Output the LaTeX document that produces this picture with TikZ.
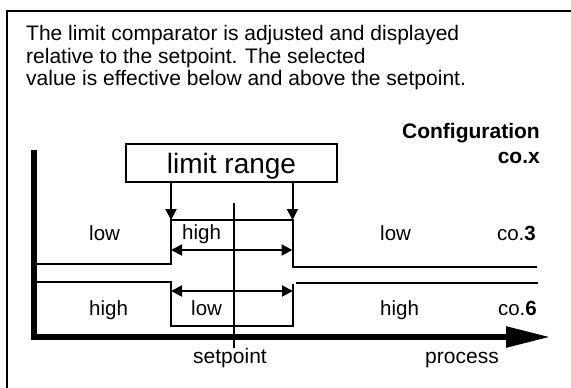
\documentclass[tikz,border=0pt]{standalone}
\usepackage{fontspec}
\setmainfont{Liberation Sans}
\usetikzlibrary{arrows.meta}
\begin{document}
\begin{tikzpicture}[x=1pt,y=-1pt,
  txt/.style={inner sep=0pt, font=\fontsize{21}{25}\selectfont},
  lbl/.style={inner sep=0pt, font=\fontsize{20.5}{25}\selectfont},
  trace/.style={line width=2pt},
  axis/.style={line width=5.5pt},
  tip/.style={-{Triangle[length=11pt,width=11pt]}},
  dtip/.style={{Triangle[length=11pt,width=11pt]}-{Triangle[length=11pt,width=11pt]}}]
\useasboundingbox (0,0) rectangle (571,388);
\clip (0,0) rectangle (571,388);
\fill[white] (0,0) rectangle (571,388);
% outer frame
\draw[line width=2.5pt] (7,400) -- (7,11) -- (600,11);
% paragraph
\node[txt, anchor=base west] (t1) at (26,41) {The limit comparator is adjusted and displayed};
\node[txt, anchor=base west] (t2) at (26,63) {relative to the setpoint. The selected};
\node[txt, anchor=base west] (t3) at (26,85) {value is effective below and above the setpoint.};
% configuration
\node[txt, font=\fontsize{21}{25}\selectfont\bfseries, anchor=base east] (conf) at (540,138) {Configuration};
\node[txt, font=\fontsize{21}{25}\selectfont\bfseries, anchor=base east] (cox) at (540,163) {co.x};
% limit range box
\node[draw, line width=2pt, minimum width=211pt, minimum height=38pt, inner sep=0pt] (box) at (231.5,163) {};
\node[inner sep=0pt, font=\fontsize{28}{30}\selectfont, anchor=base] (lr) at (231.5,173) {limit range};
\coordinate (a1) at (171,220);
\coordinate (a2) at (292.5,220);
\draw[trace, tip] (box.south -| a1) -- (a1);
\draw[trace, tip] (box.south -| a2) -- (a2);
% setpoint line
\draw[trace] (234,203) -- (234,348);
% co.3 trace
\draw[trace] (34,264) -- (171,264) -- (a1) -- (a2) -- (292.5,267) -- (537,267);
\draw[trace, dtip] (171,250) -- (292.5,250);
% co.6 trace
\draw[trace] (34,282) -- (171,282) -- (171,326) -- (293,326) -- (293,284);
\draw[trace] (295.5,283) -- (538,283);
\draw[trace, dtip] (171,291) -- (293,291);
% axes
\draw[axis, -{Triangle[length=44pt,width=20pt]}] (34,150) -- (34,337) -- (550,337);
% labels row 1
\node[lbl, anchor=base west] (l1) at (89,240) {low};
\node[lbl, anchor=base west] (h1) at (182,239) {high};
\node[lbl, anchor=base west] (l2) at (380,240) {low};
\node[lbl, anchor=base east] (c3) at (536,240) {co.\textbf{3}};
% labels row 2
\node[lbl, anchor=base west] (h2) at (89,315) {high};
\node[lbl, anchor=base west] (l3) at (191,315) {low};
\node[lbl, anchor=base west] (h3) at (380,315) {high};
\node[lbl, anchor=base east] (c6) at (537,315) {co.\textbf{6}};
% axis labels
\node[txt, anchor=base] (sp) at (230,363) {setpoint};
\node[txt, anchor=base] (pr) at (462,363) {process};
\end{tikzpicture}
\end{document}
